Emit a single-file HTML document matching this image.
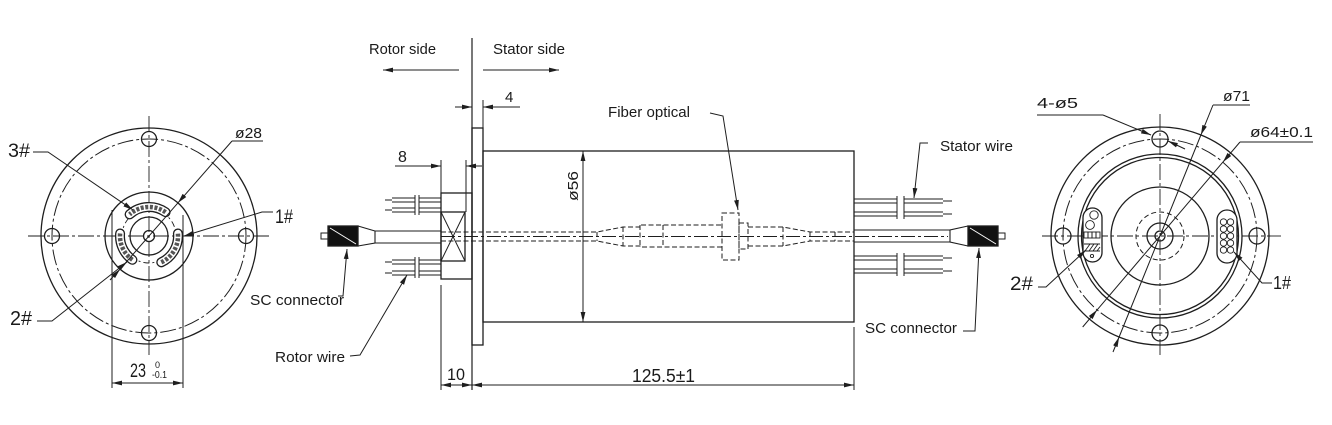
<!DOCTYPE html>
<html><head><meta charset="utf-8">
<style>
html,body{margin:0;padding:0;background:#fff;}
svg{display:block;}
text{font-family:"Liberation Sans",sans-serif;fill:#1a1a1a;stroke:none;}
</style></head><body>
<svg width="1332" height="425" viewBox="0 0 1332 425" xmlns="http://www.w3.org/2000/svg">
<defs>
<marker id="a" viewBox="0 0 10 6" refX="10" refY="3" markerWidth="10" markerHeight="6" markerUnits="userSpaceOnUse" orient="auto-start-reverse">
<path d="M0,0.6 L10,3 L0,5.4 z" fill="#1e1e1e"/>
</marker>
</defs>

<g fill="none" stroke="#1e1e1e" stroke-width="1.3">

<!-- ============ LEFT VIEW ============ -->
<circle cx="149" cy="236" r="108"/>
<circle cx="149" cy="236" r="97" stroke-width="1" stroke-dasharray="16 3 3 3"/>
<circle cx="149" cy="139" r="7.5"/>
<circle cx="149" cy="333" r="7.5"/>
<circle cx="52" cy="236" r="7.5"/>
<circle cx="246" cy="236" r="7.5"/>
<line x1="28" y1="236" x2="270" y2="236" stroke-width="0.9" stroke-dasharray="16 3 3 3"/>
<line x1="149" y1="116" x2="149" y2="355" stroke-width="0.9" stroke-dasharray="16 3 3 3"/>
<circle cx="149" cy="236" r="44"/>
<circle cx="149" cy="236" r="27" stroke-width="0.9" stroke-dasharray="6 3 2 3"/>
<circle cx="149" cy="236" r="19"/>
<circle cx="149" cy="236" r="5.5"/>
<!-- slots -->
<g stroke-linecap="round">
<path d="M165.6,212.2 A29,29 0 0 0 129.6,214.4" stroke-width="10"/>
<path d="M165.6,212.2 A29,29 0 0 0 129.6,214.4" stroke="#fff" stroke-width="7.4"/>
<path d="M165.6,212.2 A29,29 0 0 0 129.6,214.4" stroke="#555" stroke-width="4.5" stroke-dasharray="3 1.6" stroke-linecap="butt"/>
<path d="M120.1,233.5 A29,29 0 0 0 132.4,259.8" stroke-width="10"/>
<path d="M120.1,233.5 A29,29 0 0 0 132.4,259.8" stroke="#fff" stroke-width="7.4"/>
<path d="M120.1,233.5 A29,29 0 0 0 132.4,259.8" stroke="#555" stroke-width="4.5" stroke-dasharray="3 1.6" stroke-linecap="butt"/>
<path d="M161.3,262.3 A29,29 0 0 0 177.9,233.5" stroke-width="10"/>
<path d="M161.3,262.3 A29,29 0 0 0 177.9,233.5" stroke="#fff" stroke-width="7.4"/>
<path d="M161.3,262.3 A29,29 0 0 0 177.9,233.5" stroke="#555" stroke-width="4.5" stroke-dasharray="3 1.6" stroke-linecap="butt"/>
</g>
<!-- leaders -->
<polyline points="33,152 48,152 133,210" stroke-width="1" marker-end="url(#a)"/>
<line x1="232" y1="141" x2="263" y2="141" stroke-width="1"/>
<line x1="232" y1="141" x2="177.9" y2="202.9" stroke-width="1" marker-end="url(#a)"/>
<line x1="177.9" y1="202.9" x2="120.1" y2="269.1" stroke-width="1"/>
<line x1="110" y1="280" x2="120.1" y2="269.1" stroke-width="1" marker-end="url(#a)"/>
<polyline points="273,212 262,212 184,236" stroke-width="1" marker-end="url(#a)"/>
<polyline points="37,321 52,321 127,262" stroke-width="1" marker-end="url(#a)"/>
<!-- 23 dim -->
<line x1="112" y1="210" x2="112" y2="388" stroke-width="1"/>
<line x1="183" y1="215" x2="183" y2="388" stroke-width="1"/>
<line x1="112" y1="383" x2="183" y2="383" stroke-width="1" marker-start="url(#a)" marker-end="url(#a)"/>

<!-- ============ SIDE VIEW ============ -->
<line x1="472" y1="38" x2="472" y2="390" stroke-width="1.2"/>
<line x1="459" y1="70" x2="383" y2="70" stroke-width="1" marker-end="url(#a)"/>
<line x1="483" y1="70" x2="559" y2="70" stroke-width="1" marker-end="url(#a)"/>
<!-- 4 dim -->
<line x1="455" y1="107" x2="472" y2="107" stroke-width="1" marker-end="url(#a)"/>
<line x1="520" y1="107" x2="483" y2="107" stroke-width="1" marker-end="url(#a)"/>
<line x1="483" y1="100" x2="483" y2="128" stroke-width="1"/>
<!-- flange & body -->
<rect x="472" y="128" width="11" height="217"/>
<rect x="483" y="151" width="371" height="171"/>
<!-- 8 dim -->
<line x1="395" y1="166" x2="441" y2="166" stroke-width="1" marker-end="url(#a)"/>
<line x1="482" y1="166" x2="466" y2="166" stroke-width="1" marker-end="url(#a)"/>
<line x1="441" y1="160" x2="441" y2="193" stroke-width="1"/>
<line x1="466" y1="160" x2="466" y2="212" stroke-width="1"/>
<!-- rotor block -->
<rect x="441" y="193" width="31" height="86"/>
<rect x="441" y="212" width="24" height="49"/>
<line x1="441" y1="212" x2="465" y2="261" stroke-width="1"/>
<line x1="465" y1="212" x2="441" y2="261" stroke-width="1"/>
<line x1="441" y1="285" x2="441" y2="390" stroke-width="1"/>
<!-- left wires -->
<g stroke-width="1.1">
<path d="M392,198 H441 M392,202 H441 M385,200 H392"/>
<path d="M392,208 H441 M392,212 H441 M385,210 H392"/>
<path d="M392,260 H441 M392,264 H441 M385,262 H392"/>
<path d="M392,271 H441 M392,275 H441 M385,273 H392"/>
</g>
<rect x="415.5" y="195" width="3" height="20" fill="#fff" stroke="none"/>
<rect x="415.5" y="257" width="3" height="21" fill="#fff" stroke="none"/>
<path d="M415,195 V215 M419,195 V215 M415,257 V278 M419,257 V278" stroke-width="1"/>
<!-- left fiber connector -->
<path d="M375,231 H441 M375,243 H441 M358,226 L375,231 V243 L358,246" stroke-width="1.1"/>
<rect x="328" y="226" width="30" height="20" fill="#111"/>
<line x1="330" y1="228" x2="356" y2="244" stroke="#fff" stroke-width="1"/>
<rect x="321" y="233" width="7" height="6" stroke-width="1"/>
<!-- inner dashed fiber -->
<g stroke-width="1" stroke-dasharray="5 2.5">
<path d="M441,232 H597 L623,227 H640 V225 H722"/>
<path d="M441,241 H597 L623,246 H640 V247 H722"/>
<rect x="722" y="213" width="17" height="47"/>
<rect x="739" y="223" width="9" height="26"/>
<path d="M748,227 H783 L810,232 H854"/>
<path d="M748,246 H783 L810,241 H854"/>
<path d="M597,232 V241 M623,227 V246 M640,225 V247 M663,225 V247 M783,227 V246 M810,232 V241 M835,232 V241"/>
</g>
<line x1="441" y1="236.5" x2="948" y2="236.5" stroke-width="0.9" stroke-dasharray="14 3 3 3"/>
<!-- ø56 -->
<line x1="583" y1="151" x2="583" y2="322" stroke-width="1" marker-start="url(#a)" marker-end="url(#a)"/>
<!-- fiber optical leader -->
<polyline points="710,113 723,116 738,210" stroke-width="1" marker-end="url(#a)"/>
<!-- bottom dims -->
<line x1="441" y1="385" x2="472" y2="385" stroke-width="1" marker-start="url(#a)" marker-end="url(#a)"/>
<line x1="472" y1="385" x2="854" y2="385" stroke-width="1" marker-start="url(#a)" marker-end="url(#a)"/>
<line x1="854" y1="327" x2="854" y2="390" stroke-width="1"/>
<!-- right wires -->
<g stroke-width="1.1">
<path d="M854,199 H943 M854,203 H943 M943,201 H952"/>
<path d="M854,212 H943 M854,216 H943 M943,214 H952"/>
<path d="M854,256 H943 M854,260 H943 M943,258 H952"/>
<path d="M854,269 H943 M854,273 H943 M943,271 H952"/>
</g>
<rect x="897.5" y="196" width="6" height="23" fill="#fff" stroke="none"/>
<rect x="897.5" y="253" width="6" height="23" fill="#fff" stroke="none"/>
<path d="M897,196 V219 M904,196 V219 M897,253 V276 M904,253 V276" stroke-width="1"/>
<!-- right fiber connector -->
<path d="M854,230 H950 M854,242 H950 M968,226 L950,230 V242 L968,246" stroke-width="1.1"/>
<rect x="968" y="226" width="30" height="20" fill="#111"/>
<line x1="970" y1="228" x2="996" y2="244" stroke="#fff" stroke-width="1"/>
<rect x="998" y="233" width="7" height="6" stroke-width="1"/>
<!-- leaders -->
<polyline points="928,143 920,143 914,198" stroke-width="1" marker-end="url(#a)"/>
<polyline points="963,331 975,331 979,248" stroke-width="1" marker-end="url(#a)"/>
<polyline points="338,296 343,296 347,249" stroke-width="1" marker-end="url(#a)"/>
<polyline points="350,356 360,355 407,275" stroke-width="1" marker-end="url(#a)"/>

<!-- ============ RIGHT VIEW ============ -->
<circle cx="1160" cy="236" r="109"/>
<circle cx="1160" cy="236" r="97" stroke-width="1" stroke-dasharray="16 3 3 3"/>
<circle cx="1160" cy="236" r="82"/>
<circle cx="1160" cy="236" r="78.5"/>
<circle cx="1160" cy="236" r="49"/>
<circle cx="1160" cy="236" r="24" stroke-width="1" stroke-dasharray="5 3"/>
<circle cx="1160" cy="236" r="13"/>
<circle cx="1160" cy="236" r="5"/>
<circle cx="1160" cy="139" r="8"/>
<circle cx="1160" cy="333" r="8"/>
<circle cx="1063" cy="236" r="8"/>
<circle cx="1257" cy="236" r="8"/>
<line x1="1042" y1="236" x2="1281" y2="236" stroke-width="0.9" stroke-dasharray="16 3 3 3"/>
<line x1="1160" y1="114" x2="1160" y2="358" stroke-width="0.9" stroke-dasharray="16 3 3 3"/>
<!-- slots -->
<rect x="1083" y="208" width="19" height="54" rx="9.5" fill="#fff"/>
<rect x="1217" y="210" width="20" height="53" rx="10" fill="#fff"/>
<g stroke-width="0.9">
<circle cx="1223.5" cy="222" r="3.2"/><circle cx="1230.5" cy="222" r="3.2"/>
<circle cx="1223.5" cy="229" r="3.2"/><circle cx="1230.5" cy="229" r="3.2"/>
<circle cx="1223.5" cy="236" r="3.2"/><circle cx="1230.5" cy="236" r="3.2"/>
<circle cx="1223.5" cy="243" r="3.2"/><circle cx="1230.5" cy="243" r="3.2"/>
<circle cx="1223.5" cy="250" r="3.2"/><circle cx="1230.5" cy="250" r="3.2"/>
<circle cx="1094" cy="215" r="4.2"/>
<circle cx="1090" cy="225" r="4.4"/>
<rect x="1084" y="232" width="4" height="6"/><rect x="1088" y="232" width="4" height="6"/>
<rect x="1092" y="232" width="4" height="6"/><rect x="1096" y="232" width="4" height="6"/>
<path d="M1084,244 H1100 M1084,251 H1100 M1085,251 L1090,244 M1089,251 L1094,244 M1093,251 L1098,244 M1097,251 L1100,247"/>
<circle cx="1092" cy="256" r="1.6"/>
</g>
<!-- leaders -->
<line x1="1037" y1="115" x2="1103" y2="115" stroke-width="1"/>
<line x1="1103" y1="115" x2="1151" y2="135" stroke-width="1" marker-end="url(#a)"/>
<line x1="1185" y1="149" x2="1168" y2="141" stroke-width="1" marker-end="url(#a)"/>
<line x1="1213" y1="105" x2="1250" y2="105" stroke-width="1"/>
<line x1="1213" y1="105" x2="1200.9" y2="135" stroke-width="1" marker-end="url(#a)"/>
<line x1="1200.9" y1="135" x2="1119.1" y2="337" stroke-width="1"/>
<line x1="1113" y1="352" x2="1119.1" y2="337" stroke-width="1" marker-end="url(#a)"/>
<line x1="1240" y1="142" x2="1313" y2="142" stroke-width="1"/>
<line x1="1240" y1="142" x2="1222.9" y2="162.1" stroke-width="1" marker-end="url(#a)"/>
<line x1="1222.9" y1="162.1" x2="1097.1" y2="309.9" stroke-width="1"/>
<line x1="1082.7" y1="327" x2="1097.1" y2="309.9" stroke-width="1" marker-end="url(#a)"/>
<polyline points="1038,287 1046,287 1086,250" stroke-width="1" marker-end="url(#a)"/>
<polyline points="1272,283 1262,283 1234,252" stroke-width="1" marker-end="url(#a)"/>
</g>

<!-- ============ TEXT ============ -->
<g>
<text x="8" y="157" font-size="19" textLength="22" lengthAdjust="spacingAndGlyphs">3#</text>
<text x="235" y="138" font-size="15" textLength="27" lengthAdjust="spacingAndGlyphs">ø28</text>
<text x="275" y="223" font-size="19" textLength="18" lengthAdjust="spacingAndGlyphs">1#</text>
<text x="10" y="325" font-size="20" textLength="22" lengthAdjust="spacingAndGlyphs">2#</text>
<text x="130" y="377" font-size="19" textLength="16" lengthAdjust="spacingAndGlyphs">23</text>
<text x="155" y="368" font-size="9">0</text>
<text x="152" y="378" font-size="10" textLength="15" lengthAdjust="spacingAndGlyphs">-0.1</text>

<text x="369" y="54" font-size="15" textLength="67" lengthAdjust="spacingAndGlyphs">Rotor side</text>
<text x="493" y="54" font-size="15" textLength="72" lengthAdjust="spacingAndGlyphs">Stator side</text>
<text x="505" y="102" font-size="15">4</text>
<text x="398" y="162" font-size="16">8</text>
<text transform="translate(578,201) rotate(-90)" font-size="15" textLength="30" lengthAdjust="spacingAndGlyphs">ø56</text>
<text x="608" y="117" font-size="15" textLength="82" lengthAdjust="spacingAndGlyphs">Fiber optical</text>
<text x="447" y="380" font-size="17" textLength="18" lengthAdjust="spacingAndGlyphs">10</text>
<text x="632" y="382" font-size="18" textLength="63" lengthAdjust="spacingAndGlyphs">125.5±1</text>
<text x="250" y="305" font-size="15" textLength="94" lengthAdjust="spacingAndGlyphs">SC connector</text>
<text x="275" y="362" font-size="15" textLength="70" lengthAdjust="spacingAndGlyphs">Rotor wire</text>
<text x="940" y="151" font-size="15" textLength="73" lengthAdjust="spacingAndGlyphs">Stator wire</text>
<text x="865" y="333" font-size="15" textLength="92" lengthAdjust="spacingAndGlyphs">SC connector</text>

<text x="1037" y="108" font-size="15" textLength="41" lengthAdjust="spacingAndGlyphs">4-ø5</text>
<text x="1223" y="101" font-size="15" textLength="27" lengthAdjust="spacingAndGlyphs">ø71</text>
<text x="1250" y="137" font-size="15" textLength="63" lengthAdjust="spacingAndGlyphs">ø64±0.1</text>
<text x="1010" y="290" font-size="19" textLength="23" lengthAdjust="spacingAndGlyphs">2#</text>
<text x="1273" y="289" font-size="18" textLength="18" lengthAdjust="spacingAndGlyphs">1#</text>
</g>
</svg>
</body></html>
